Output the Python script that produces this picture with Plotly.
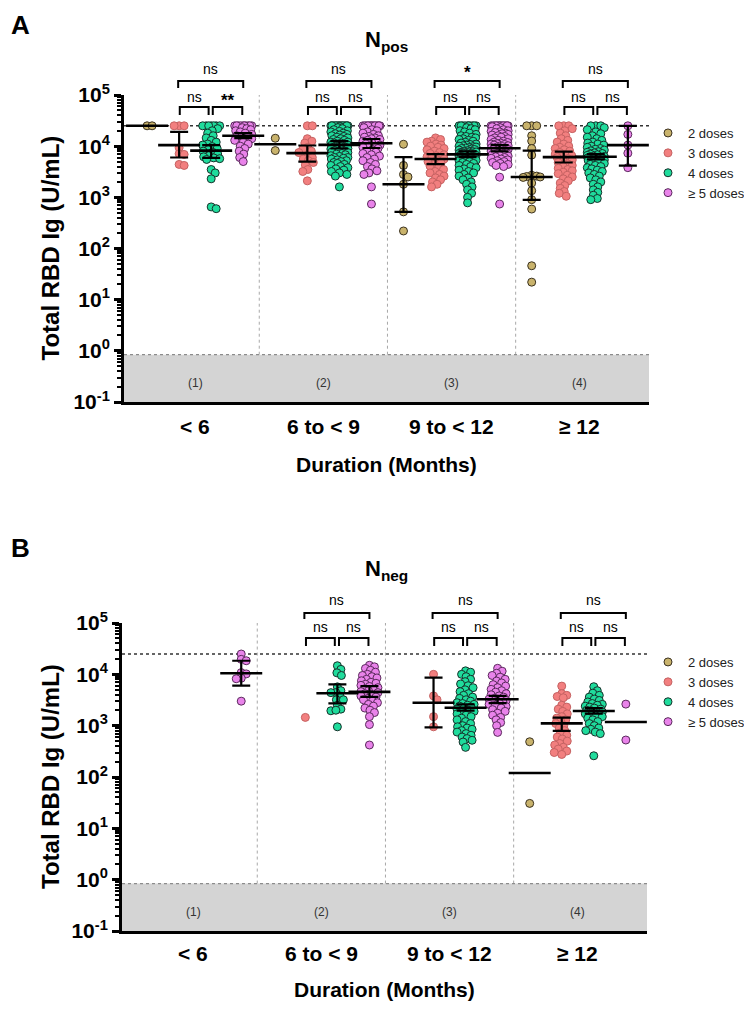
import math
import plotly.graph_objects as go

# page is rendered inside an 8px body margin; figure size fits the 752x1009 window
PAGE_OFF = 8
W, H = 752 - PAGE_OFF, 1009 - PAGE_OFF
FONT = "Liberation Sans, Arial, sans-serif"

categories = ["< 6", "6 to < 9", "9 to < 12", "≥ 12"]
doses = ["2 doses", "3 doses", "4 doses", "≥ 5 doses"]
dose_fill = ["#c9b36c", "#f27f7f", "#1fdc9c", "#e983ea"]
dose_edge = ["#3b3220", "#c56262", "#17302a", "#5a2a5c"]

ULOQ = 25000
LOD = 0.84

# ---------------- Panel A : N pos ----------------
pos_lt6_2 = [25000, 25000]
pos_lt6_3 = [25000, 25000, 25000, 9300, 7100, 6900, 4400, 4200]
pos_lt6_4 = [25000, 25000, 25000, 25000, 25000, 25000, 25000, 22000, 20000, 18000, 16000, 14500,
             13000, 12000, 11000, 10500, 9800, 9000, 8500, 8000, 7600, 7000, 6500, 6200, 5900, 5700,
             5500, 3500, 3000, 2300, 650, 600]
pos_lt6_5 = [25000, 25000, 25000, 25000, 25000, 25000, 25000, 25000, 25000, 25000, 23000, 22000,
             21000, 20000, 19000, 18000, 17000, 16000, 15500, 15000, 14000, 13000, 12000, 11000,
             10000, 9000, 8000, 7000, 6000, 5000]

pos_6to9_2 = [14300, 8200]
pos_6to9_3 = [25000, 25000, 14000, 12500, 11500, 9500, 8800, 8000, 7500, 6500, 6000, 5600, 5200,
              4800, 4300, 3500, 3200, 2100]
pos_6to9_4 = [25000, 25000, 25000, 25000, 25000, 25000, 25000, 25000, 25000, 25000, 25000, 25000,
              25000, 25000, 25000, 24000, 23000, 22000, 21000, 20000, 19500, 19000, 18000, 17500,
              17000, 16500, 16000, 15500, 15000, 14500, 14000, 13500, 13000, 12500, 12000, 12000,
              11500, 11500, 11000, 11000, 10500, 10500, 10000, 10000, 10000, 9500, 9500, 9000, 9000,
              8800, 8500, 8200, 8000, 8000, 7700, 7500, 7200, 7000, 6800, 6500, 6300, 6000, 6000,
              5800, 5600, 5400, 5200, 5000, 4800, 4600, 4400, 4200, 4000, 3800, 3600, 3400, 3200,
              3000, 2800, 2600, 1600]
pos_6to9_5 = [25000, 25000, 25000, 25000, 25000, 25000, 25000, 25000, 25000, 25000, 25000, 25000,
              25000, 25000, 23000, 21000, 20000, 19000, 18000, 17000, 16000, 15500, 15000, 14500,
              14000, 13500, 13000, 12500, 12000, 11500, 11000, 10500, 10000, 9800, 9500, 9000, 8500,
              8000, 7600, 7200, 6800, 6400, 6000, 5600, 5200, 4800, 4400, 4000, 3600, 3300, 3000,
              2800, 1600, 740]

pos_9to12_2 = [10900, 4200, 2800, 2500, 1800, 520, 220]
pos_9to12_3 = [14500, 13500, 12500, 12000, 11000, 10500, 10000, 9500, 9000, 8500, 8000, 7500, 7200,
               6800, 6500, 6200, 6000, 5800, 5600, 5400, 5000, 4700, 4400, 4100, 3800, 3500, 3200,
               3000, 2800, 2600, 2400, 2200, 2000, 1800, 1600]
pos_9to12_4 = [25000, 25000, 25000, 25000, 25000, 25000, 25000, 25000, 25000, 25000, 23000, 22000,
               21000, 20000, 19000, 18000, 17000, 16000, 15500, 15000, 14500, 14000, 13500, 13000,
               12500, 12000, 11500, 11000, 10800, 10500, 10200, 10000, 9800, 9600, 9400, 9200, 9000,
               8800, 8600, 8400, 8200, 8000, 7900, 7800, 7700, 7600, 7500, 7400, 7300, 7200, 7100,
               7000, 6900, 6800, 6700, 6600, 6500, 6400, 6300, 6200, 6100, 6000, 5900, 5800, 5700,
               5600, 5500, 5400, 5300, 5200, 5000, 4800, 4600, 4400, 4200, 4000, 3800, 3600, 3400,
               3200, 3000, 2800, 2600, 2400, 2200, 2000, 1800, 1600, 1400, 1200, 1000, 780]
pos_9to12_5 = [25000, 25000, 25000, 25000, 25000, 25000, 25000, 25000, 25000, 25000, 25000, 25000,
               25000, 25000, 24000, 23000, 22000, 21000, 20000, 19500, 19000, 18500, 18000, 17500,
               17000, 16500, 16000, 15500, 15000, 14500, 14000, 13500, 13000, 12500, 12000, 11800,
               11500, 11200, 11000, 10800, 10500, 10200, 10000, 9800, 9600, 9400, 9200, 9000, 8800,
               8600, 8400, 8200, 8000, 7800, 7600, 7400, 7200, 7000, 6800, 6600, 6400, 6200, 6000,
               5800, 5600, 5400, 5200, 5000, 4800, 4600, 4400, 4200, 4000, 2480, 740]

pos_ge12_2 = [25000, 25000, 25000, 16000, 12600, 9000, 6700, 2700, 2600, 2550, 2500, 2450, 1900,
              1350, 900, 590, 46, 22]
pos_ge12_3 = [25000, 25000, 25000, 22000, 20000, 18000, 16000, 14000, 13000, 12000, 11000, 10000,
              9500, 9000, 8500, 8000, 7500, 7000, 6800, 6500, 6200, 6000, 5700, 5400, 5100, 4800,
              4500, 4200, 4000, 3700, 3500, 3300, 3100, 2900, 2700, 2500, 2300, 2100, 1900, 1700,
              1500, 1300, 1200, 1050]
pos_ge12_4 = [25000, 25000, 25000, 23000, 21000, 19000, 17500, 16000, 15000, 14000, 13000, 12000,
              11500, 11000, 10500, 10000, 9500, 9000, 8700, 8400, 8100, 7800, 7600, 7400, 7200,
              7000, 6800, 6600, 6400, 6300, 6200, 6100, 6000, 5900, 5800, 5700, 5600, 5500, 5400,
              5300, 5200, 5100, 5000, 4800, 4600, 4400, 4200, 4000, 3800, 3600, 3400, 3200, 3000,
              2800, 2600, 2400, 2200, 2000, 1800, 1600, 1400, 1250, 1100, 950, 900]
pos_ge12_5 = [25000, 17000, 10500, 7300, 3800]

# summary bars (centre, lower, upper) per category x dose
pos_center = [[25000, 10500, 8200, 16000], [10900, 7300, 10600, 11400],
              [1800, 5600, 6900, 9100], [2500, 6100, 6200, 10500]]
pos_lower = [[None, 6000, 5900, 14400], [None, 5000, 9000, 9200],
             [520, 4450, 6100, 7900], [890, 4800, 5500, 4170]]
pos_upper = [[None, 19000, 10500, 18100], [None, 10300, 12500, 13800],
             [6100, 7000, 7900, 10500], [8200, 7800, 7000, 25000]]

pos_sig_34 = ["ns", "ns", "ns", "ns"]
pos_sig_45 = ["**", "ns", "ns", "ns"]
pos_sig_35 = ["ns", "ns", "*", "ns"]

# ---------------- Panel B : N neg ----------------
neg_lt6_5 = [24900, 19600, 18400, 10800, 10200, 8400, 8200, 3000]
neg_6to9_3 = [1450]
neg_6to9_4 = [14700, 12500, 10700, 9500, 5700, 4800, 4400, 4400, 3800, 3200, 3200, 2500, 2100,
              1950, 2000, 950]
neg_6to9_5 = [15000, 14000, 13000, 12000, 11000, 10000, 9500, 9000, 8500, 8000, 7500, 7000, 6700,
              6400, 6100, 5800, 5500, 5200, 5000, 4800, 4600, 4400, 4200, 4000, 3800, 3600, 3400,
              3200, 3000, 2800, 2600, 2400, 2200, 2000, 1800, 1500, 1050, 420]
neg_9to12_3 = [10000, 3800, 3200, 1500, 950]
neg_9to12_4 = [11700, 11000, 10000, 9000, 8000, 7200, 6500, 6000, 5500, 5000, 4600, 4200, 3900,
               3600, 3400, 3200, 3000, 2800, 2700, 2600, 2500, 2400, 2300, 2200, 2100, 2000, 1900,
               1800, 1700, 1600, 1500, 1400, 1300, 1200, 1100, 1000, 950, 900, 850, 800, 750, 700,
               650, 600, 560, 520, 480, 378]
neg_9to12_5 = [13100, 11500, 10500, 9500, 8800, 8000, 7400, 6800, 6300, 5900, 5500, 5100, 4800,
               4500, 4200, 4000, 3800, 3600, 3400, 3300, 3200, 3100, 3000, 2900, 2800, 2700, 2600,
               2500, 2350, 2200, 2050, 1900, 1750, 1600, 1450, 1300, 1150, 1000, 740]
neg_ge12_2 = [486, 30.6]
neg_ge12_3 = [5900, 4200, 3900, 3700, 3500, 2500, 2300, 2100, 1900, 1700, 1500, 1400, 1300, 1200,
              1100, 1000, 900, 800, 720, 650, 600, 550, 500, 450, 420, 380, 350, 320, 300, 275]
neg_ge12_4 = [5740, 4800, 4300, 3900, 3600, 3300, 3100, 2900, 2700, 2600, 2500, 2400, 2300, 2200,
              2100, 2000, 1950, 1900, 1850, 1800, 1750, 1700, 1650, 1600, 1550, 1500, 1400, 1300,
              1200, 1100, 1000, 900, 850, 800, 750, 700, 259]
neg_ge12_5 = [2630, 525]

neg_center = [[None, None, None, 10500], [None, None, 4270, 4560],
              [None, 2800, 2230, 3260], [120, 1110, 1930, 1180]]
neg_lower = [[None, None, None, 6000], [None, None, 2720, 3650],
             [None, 930, 1960, 2750], [None, 790, 1720, None]]
neg_upper = [[None, None, None, 18400], [None, None, 6380, 5900],
             [None, 8600, 2600, 3800], [None, 1430, 2200, None]]

neg_sig_34 = [None, "ns", "ns", "ns"]
neg_sig_45 = [None, "ns", "ns", "ns"]
neg_sig_35 = [None, "ns", "ns", "ns"]

pos_data = [[pos_lt6_2, pos_lt6_3, pos_lt6_4, pos_lt6_5],
            [pos_6to9_2, pos_6to9_3, pos_6to9_4, pos_6to9_5],
            [pos_9to12_2, pos_9to12_3, pos_9to12_4, pos_9to12_5],
            [pos_ge12_2, pos_ge12_3, pos_ge12_4, pos_ge12_5]]
neg_data = [[[], [], [], neg_lt6_5],
            [[], neg_6to9_3, neg_6to9_4, neg_6to9_5],
            [[], neg_9to12_3, neg_9to12_4, neg_9to12_5],
            [neg_ge12_2, neg_ge12_3, neg_ge12_4, neg_ge12_5]]

# ---------------- layout geometry (page pixels) ----------------
X_RANGE = [-0.72, 15.66]
Y_RANGE = [-1, 5]
panels = [
    dict(name="A", sub="pos", data=pos_data, c=pos_center, lo=pos_lower, hi=pos_upper,
         s34=pos_sig_34, s45=pos_sig_45, s35=pos_sig_35,
         xpx=(124, 649), ypx=(95, 402), xa="x", ya="y", legend="legend",
         letter_y=8, letter_anchor="top", title_y=41, xlab_y=426, xtitle_y=464, band_lab=0.23,
         small_top=107, small_bot=115, big_top=81, big_bot=88, txt_small=97, txt_big=69,
         leg_y=118),
    dict(name="B", sub="neg", data=neg_data, c=neg_center, lo=neg_lower, hi=neg_upper,
         s34=neg_sig_34, s45=neg_sig_45, s35=neg_sig_35,
         xpx=(122, 647), ypx=(623, 931), xa="x2", ya="y2", legend="legend2",
         letter_y=548, letter_anchor="middle", title_y=570, xlab_y=953, xtitle_y=989,
         band_lab=0.23,
         small_top=638, small_bot=646, big_top=613, big_bot=619, txt_small=627, txt_big=600,
         leg_y=647),
]


def px_x(p):
    return (p - PAGE_OFF) / W


def px_y(p):
    return 1 - (p - PAGE_OFF) / H


def swarm(values, center, ppx, ppd, diam=5.0, maxoff=8.5, step=0.5):
    """Simple beeswarm: offsets in pixels to limit overlap."""
    order = sorted(range(len(values)), key=lambda i: -values[i])
    cands = [0.0]
    k = 1
    while k * step <= maxoff:
        cands += [k * step, -k * step]
        k += 1
    placed = []
    xs = [0.0] * len(values)
    for i in order:
        y = math.log10(values[i]) * ppd
        near = [(px, py) for px, py in placed if abs(py - y) < diam]
        best = None
        for cx in cands:
            if all((cx - px) ** 2 + (y - py) ** 2 >= diam ** 2 for px, py in near):
                best = cx
                break
        if best is None:
            best = max(cands, key=lambda cx: min((cx - px) ** 2 + (y - py) ** 2 for px, py in near))
        placed.append((best, y))
        xs[i] = center + best / ppx
    return xs


def ann(**kw):
    base = dict(showarrow=False, xanchor="center", yanchor="middle")
    base.update(kw)
    return base


fig = go.Figure()
shapes = []
annotations = []

for P in panels:
    ppx = (P["xpx"][1] - P["xpx"][0]) / (X_RANGE[1] - X_RANGE[0])
    ppd = (P["ypx"][1] - P["ypx"][0]) / (Y_RANGE[1] - Y_RANGE[0])
    # points
    for d in range(4):
        xs, ys = [], []
        for c in range(4):
            vals = P["data"][c][d]
            if vals:
                xs += swarm(vals, 4 * c + d, ppx, ppd)
                ys += vals
        fig.add_trace(go.Scatter(
            x=xs, y=ys, mode="markers", name=doses[d], legend=P["legend"],
            xaxis=P["xa"], yaxis=P["ya"], cliponaxis=False,
            marker=dict(size=8, color=dose_fill[d], line=dict(color=dose_edge[d], width=1)),
            hoverinfo="skip"))
    # centre lines and CI
    cx, cy, ex, ey, eu, el = [], [], [], [], [], []
    for c in range(4):
        for d in range(4):
            v = P["c"][c][d]
            if v is None:
                continue
            cx.append(4 * c + d)
            cy.append(v)
            if P["lo"][c][d] is not None:
                ex.append(4 * c + d)
                ey.append(v)
                eu.append(P["hi"][c][d] - v)
                el.append(v - P["lo"][c][d])
    fig.add_trace(go.Scatter(
        x=ex, y=ey, mode="markers", showlegend=False, xaxis=P["xa"], yaxis=P["ya"],
        marker=dict(size=1, color="rgba(0,0,0,0)"), cliponaxis=False,
        error_y=dict(type="data", array=eu, arrayminus=el, symmetric=False,
                     width=9, thickness=2.2, color="black"), hoverinfo="skip"))
    fig.add_trace(go.Scatter(
        x=cx, y=cy, mode="markers", showlegend=False, xaxis=P["xa"], yaxis=P["ya"],
        cliponaxis=False,
        marker=dict(symbol="line-ew", size=30, line=dict(width=2.6, color="black")),
        hoverinfo="skip"))

    xa, ya = P["xa"], P["ya"]
    # grey band below LOD
    shapes.append(dict(type="rect", xref=xa + " domain", yref=ya, x0=0, x1=1, y0=0.1, y1=LOD,
                       fillcolor="#d4d4d4", line=dict(width=0), layer="below"))
    shapes.append(dict(type="line", xref=xa + " domain", yref=ya, x0=0, x1=1, y0=LOD, y1=LOD,
                       line=dict(color="#8c8c8c", width=1.2, dash="dot"), layer="above"))
    # ULOQ line
    shapes.append(dict(type="line", xref=xa + " domain", yref=ya, x0=0, x1=1, y0=ULOQ, y1=ULOQ,
                       line=dict(color="#333333", width=1.5, dash="dot"), layer="below"))
    # category dividers
    for c in range(1, 4):
        xv = 4 * c - 0.5
        shapes.append(dict(type="line", xref=xa, yref=ya, x0=xv, x1=xv, y0=LOD, y1=1e5,
                           line=dict(color="#a8a8a8", width=1, dash="dot"), layer="below"))
    # band labels
    for c in range(4):
        annotations.append(ann(x=4 * c + 1.5, y=math.log10(P["band_lab"]), xref=xa, yref=ya,
                               text="(%d)" % (c + 1),
                               font=dict(family=FONT, size=12, color="#333333")))
    # brackets
    for c in range(4):
        if P["s35"][c] is None:
            continue
        s3 = 4 * c + 1
        items = [
            (s3 + 0.02, s3 + 0.92, P["small_top"], P["small_bot"], P["s34"][c], P["txt_small"]),
            (s3 + 1.05, s3 + 1.97, P["small_top"], P["small_bot"], P["s45"][c], P["txt_small"]),
            (s3 - 0.03, s3 + 2.0, P["big_top"], P["big_bot"], P["s35"][c], P["txt_big"]),
        ]
        for xa0, xa1, yt, yb, lab, ytx in items:
            path = "M %f,%f L %f,%f L %f,%f L %f,%f" % (
                xa0, px_y(yb), xa0, px_y(yt), xa1, px_y(yt), xa1, px_y(yb))
            shapes.append(dict(type="path", xref=xa, yref="paper", path=path,
                               line=dict(color="black", width=2)))
            star = "*" in lab
            annotations.append(ann(x=(xa0 + xa1) / 2, y=px_y(ytx + (3 if star else 0)), xref=xa,
                                   yref="paper", text=("<b>%s</b>" % lab) if star else lab,
                                   font=dict(family=FONT, size=17 if star else 14,
                                             color="black")))
    # panel letter and title
    annotations.append(ann(x=px_x(20), y=px_y(P["letter_y"]), xref="paper", yref="paper",
                           text="<b>%s</b>" % P["name"], yanchor=P["letter_anchor"],
                           font=dict(family=FONT, size=26, color="black")))
    annotations.append(ann(x=px_x(386), y=px_y(P["title_y"]), xref="paper", yref="paper",
                           text="<b>N<sub>%s</sub></b>" % P["sub"],
                           font=dict(family=FONT, size=22, color="black")))
    # axis titles
    annotations.append(ann(x=px_x(50), y=px_y((P["ypx"][0] + P["ypx"][1]) / 2), xref="paper",
                           yref="paper", text="<b>Total RBD Ig (U/mL)</b>", textangle=-90,
                           font=dict(family=FONT, size=24, color="black")))
    annotations.append(ann(x=px_x((P["xpx"][0] + P["xpx"][1]) / 2), y=px_y(P["xtitle_y"]),
                           xref="paper", yref="paper", text="<b>Duration (Months)</b>",
                           font=dict(family=FONT, size=21, color="black")))
    # x category labels
    for c in range(4):
        annotations.append(ann(x=4 * c + 1.5, y=px_y(P["xlab_y"]), xref=xa, yref="paper",
                               text="<b>%s</b>" % categories[c],
                               font=dict(family=FONT, size=21, color="black")))

minor_vals = [m * 10 ** e for e in range(-1, 5) for m in range(2, 10)]
ytickvals = [10 ** e for e in range(-1, 6)]
yticktext = ["<b>10<sup>%d</sup></b>" % e for e in range(-1, 6)]

layout = dict(
    width=W, height=H, margin=dict(l=0, r=0, t=0, b=0, autoexpand=False),
    plot_bgcolor="white", paper_bgcolor="white",
    font=dict(family=FONT, color="black"),
    shapes=shapes, annotations=annotations,
)
for P in panels:
    xkey = "xaxis" if P["xa"] == "x" else "xaxis2"
    ykey = "yaxis" if P["ya"] == "y" else "yaxis2"
    layout[xkey] = dict(domain=[px_x(P["xpx"][0]), px_x(P["xpx"][1])], range=X_RANGE,
                        showline=True, linecolor="black", linewidth=3, ticks="",
                        showticklabels=False, showgrid=False, zeroline=False,
                        anchor=P["ya"])
    layout[ykey] = dict(domain=[px_y(P["ypx"][1]), px_y(P["ypx"][0])], type="log",
                        range=Y_RANGE, showline=True, linecolor="black", linewidth=3,
                        ticks="outside", ticklen=7, tickwidth=2.5, tickcolor="black",
                        tickvals=ytickvals, ticktext=yticktext,
                        tickfont=dict(family=FONT, size=21, color="black"),
                        minor=dict(tickmode="array", tickvals=minor_vals, ticks="outside",
                                   ticklen=4, tickwidth=1.5, tickcolor="black"),
                        showgrid=False, zeroline=False, anchor=P["xa"])
    layout[P["legend"]] = dict(x=px_x(648), y=px_y(P["leg_y"]), xanchor="left", yanchor="top",
                               bgcolor="rgba(0,0,0,0)",
                               font=dict(family=FONT, size=13, color="#222222"),
                               itemwidth=30, tracegroupgap=0)

fig.update_layout(**layout)
fig.write_html("out.html")
